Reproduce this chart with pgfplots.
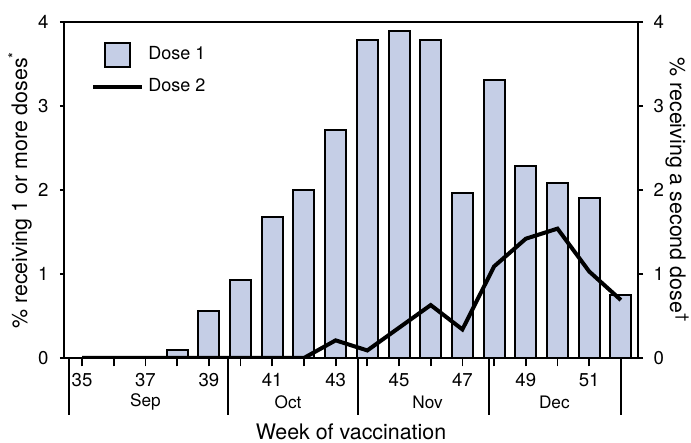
\documentclass[border=0pt]{standalone}
\usepackage{pgfplots}
\pgfplotsset{compat=1.18}
\usepackage{fontspec}
\setmainfont{TeX Gyre Heros}
\definecolor{barfill}{RGB}{197,206,230}

\begin{document}
\begin{tikzpicture}
\begin{axis}[
  name=main,
  width=287pt, height=168pt, scale only axis,
  xmin=34.43, xmax=52.54,
  ymin=0, ymax=4,
  clip=false,
  axis line style={line width=1pt},
  tick align=outside,
  xtick pos=bottom, ytick pos=left,
  xtick={35,...,52},
  xticklabels={35,,37,,39,,41,,43,,45,,47,,49,,51,},
  x tick style={line width=0.9pt, black},
  y tick style={line width=0.8pt, black},
  xtick style={/pgfplots/major tick length=4.2pt},
  ytick style={/pgfplots/major tick length=2pt},
  ytick={0,1,2,3,4},
  /pgf/number format/assume math mode=true,
  ticklabel style={font=\fontsize{9.3}{11}\selectfont},
  xlabel={Week of vaccination},
  xlabel style={at={(axis description cs:0.5,-0.22)}, anchor=center, font=\fontsize{10.7}{13}\selectfont},
  ylabel={\% receiving 1 or more doses\textsuperscript{*}},
  ylabel style={at={(axis description cs:-0.0767,0.5)}, anchor=center, font=\fontsize{10.7}{13}\selectfont},
  legend style={at={(rel axis cs:0.047,0.943)}, anchor=north west, inner sep=0pt, draw=none, fill=none,
    row sep=3.5pt, font=\fontsize{9}{11}\selectfont, legend cell align=left},
]
\addplot[ybar, bar width=10.5pt, fill=barfill, draw=black, line width=1pt,
  legend image code/.code={\path[draw=none,fill=none] (0pt,0pt) -- (24.5pt,0pt); \draw[fill=barfill,draw=black,line width=1pt] (6pt,-6pt) rectangle (18.5pt,6pt);}]
  coordinates {(38,0.09) (39,0.56) (40,0.93) (41,1.68) (42,2.0) (43,2.71) (44,3.78) (45,3.89) (46,3.78) (47,1.97) (48,3.31) (49,2.29) (50,2.08) (51,1.90) (52,0.75)};
\addlegendentry{Dose 1}
\addlegendimage{black, line width=2pt, legend image code/.code={\draw[black,line width=2pt] (0pt,0pt) -- (24.5pt,0pt);}}
\addlegendentry{Dose 2}
\node[font=\fontsize{8.6}{10}\selectfont] at (axis cs:37,0) [yshift=-22pt] {Sep};
\node[font=\fontsize{8.6}{10}\selectfont] at (axis cs:41.5,0) [yshift=-22pt] {Oct};
\node[font=\fontsize{8.6}{10}\selectfont] at (axis cs:45.9,0) [yshift=-22pt] {Nov};
\node[font=\fontsize{8.6}{10}\selectfont] at (axis cs:49.9,0) [yshift=-22pt] {Dec};
\end{axis}
% month separators
\begin{axis}[
  width=287pt, height=168pt, scale only axis,
  xmin=34.43, xmax=52.54,
  ymin=0, ymax=4,
  axis y line=none,
  axis x line*=bottom,
  axis line style={line width=1pt},
  tick align=outside,
  xtick={34.6,39.6,43.7,47.85,52.0},
  xticklabels={},
  major tick length=28.5pt,
  x tick style={line width=1pt, black},
]
\addplot[draw=none] coordinates {(35,0)};
\end{axis}
\begin{axis}[
  width=287pt, height=168pt, scale only axis,
  xmin=34.43, xmax=52.54,
  ymin=0, ymax=4,
  axis x line=none,
  axis y line*=right,
  axis line style={line width=1pt},
  tick align=outside,
  ytick={0,1,2,3,4},
  y tick style={line width=0.8pt, black},
  ytick style={/pgfplots/major tick length=2.5pt},
  /pgf/number format/assume math mode=true,
  ticklabel style={font=\fontsize{9.3}{11}\selectfont},
  ylabel={\% receiving a second dose\textsuperscript{\textdagger}},
  ylabel style={at={(axis description cs:1.068,0.5)}, anchor=center, rotate=180, font=\fontsize{10.7}{13}\selectfont},
]
\addplot[black, line width=2pt, mark=none]
  coordinates {(35,0) (36,0) (37,0) (38,0) (39,0) (40,0) (41,0) (42,0) (43,0.21) (44,0.09) (45,0.36) (46,0.63) (47,0.34) (48,1.09) (49,1.42) (50,1.54) (51,1.03) (52,0.69)};
\end{axis}
\pgfresetboundingbox
\path[use as bounding box] ([shift={(-32pt,-42.5pt)}]main.south west) rectangle ([shift={(26.5pt,11pt)}]main.north east);
\end{tikzpicture}
\end{document}
